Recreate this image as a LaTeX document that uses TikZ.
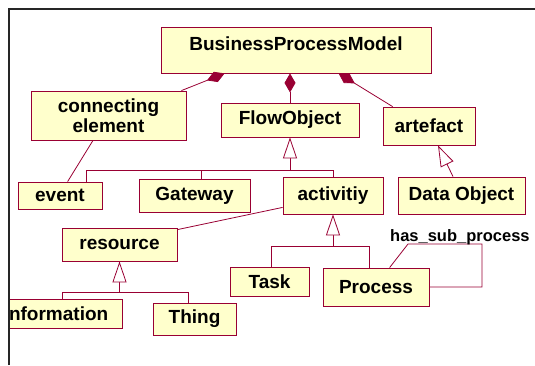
\documentclass[tikz,border=0pt]{standalone}
\usepackage{fontspec}
\setmainfont{Liberation Sans}
\usetikzlibrary{arrows.meta}
\definecolor{crim}{HTML}{990033}
\definecolor{boxfill}{HTML}{FFFFCC}
\begin{document}
\begin{tikzpicture}[x=1pt,y=-1pt,
  box/.style={draw=crim, fill=boxfill, line width=0.8pt, inner sep=0pt,
    font=\bfseries\fontsize{19}{20}\selectfont, align=center},
  conn/.style={draw=crim, line width=0.8pt},
  gen/.style={conn, -{Triangle[length=21pt,width=14pt,fill=white]}},
  comp/.style={conn, -{Diamond[length=19pt,width=11pt,fill=crim]}},
  frameline/.style={draw=black!85, line width=1.6pt},
  lbl/.style={font=\bfseries\fontsize{16.5}{18}\selectfont, inner sep=0pt}]
\useasboundingbox (0,0) rectangle (535,365);

% boxes
\node[box, minimum width=270pt, text height=23.5pt, text depth=22.5pt] (bpm) at (296,50) {BusinessProcessModel};
\node[box, minimum width=155pt, minimum height=49pt] (connel) at (108.5,115.5) {connecting\\element};
\node[box, minimum width=138pt, minimum height=34pt] (flow) at (290,120) {FlowObject};
\node[box, minimum width=92pt, minimum height=38pt] (artefact) at (429,126) {artefact};
\node[box, minimum width=84pt, minimum height=27pt] (event) at (60,195.5) {event};
\node[box, minimum width=111pt, minimum height=33pt] (gateway) at (194.5,195.5) {Gateway};
\node[box, minimum width=100pt, minimum height=37pt] (activ) at (333,195.5) {activitiy};
\node[box, minimum width=127pt, minimum height=37pt] (dataobj) at (461.5,195.5) {Data Object};
\node[box, minimum width=115pt, minimum height=33pt] (resource) at (119.5,244.5) {resource};
\begin{scope}
  \clip (10,0) rectangle (535,365);
  \node[box, minimum width=132pt, minimum height=29pt] (info) at (56,313.5) {Information};
\end{scope}
\node[box, minimum width=83pt, minimum height=32pt] (thing) at (194.5,319) {Thing};
\node[box, minimum width=79pt, minimum height=29pt] (task) at (269.5,281.5) {Task};
\node[box, minimum width=106pt, minimum height=38pt] (process) at (376,287) {Process};

% frame
\draw[frameline] (9,365) -- (9,9) -- (535,9);

% composition
\draw[comp] (flow.north) -- (flow.north |- bpm.south);
\draw[comp] ([xshift=-5pt]connel.north east) -- ([xshift=64pt]bpm.south west);
\draw[comp] ([xshift=10pt]artefact.north west) -- ([xshift=178pt]bpm.south west);

% plain associations
\draw[conn] ([xshift=-15.5pt]connel.south) -- ([xshift=50pt]event.north west);
\draw[conn] ([yshift=7pt]activ.south west) -- ([yshift=-2pt]resource.north east);

% FlowObject generalization
\coordinate (fobar) at (290,170);
\draw[conn] ([xshift=-16pt]event.north east) |- (fobar);
\draw[conn] (activ.north) |- (fobar);
\draw[conn] ([xshift=6.5pt]gateway.north) -- ([xshift=6.5pt]gateway.north |- fobar);
\draw[gen] (fobar) -- (flow.south);

% artefact generalization
\draw[gen] ([xshift=-8.5pt]dataobj.north) -- ([xshift=9pt]artefact.south);

% activitiy generalization
\coordinate (actbar) at (333,246);
\draw[conn] ([xshift=1.5pt]task.north) |- (actbar);
\draw[conn] ([xshift=-7pt]process.north) |- (actbar);
\draw[gen] (actbar) -- (activ.south);

% resource generalization
\coordinate (resbar) at (119.5,292);
\draw[conn] ([xshift=6pt]info.north) |- (resbar);
\draw[conn] ([xshift=-6.5pt]thing.north) |- (resbar);
\draw[gen] (resbar) -- (resource.south);

% self loop
\coordinate (lp1) at (408,244);
\coordinate (lp2) at (482,244);
\draw[conn] ([xshift=67pt]process.north west) -- (lp1) -- (lp2) |- (process.east);
\node[lbl, anchor=west] (hsp) at (390,237) {has\_sub\_process};
\end{tikzpicture}
\end{document}
